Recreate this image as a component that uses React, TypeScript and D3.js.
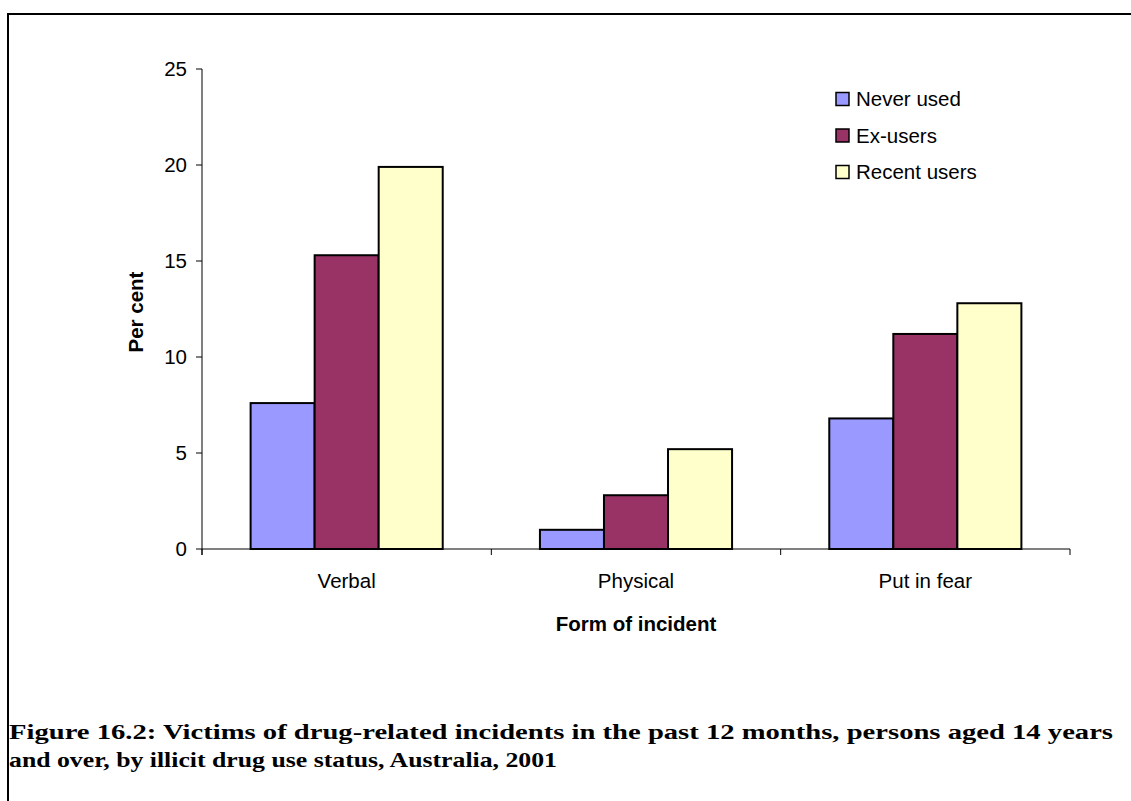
import * as d3 from "d3";

const categories = ["Verbal", "Physical", "Put in fear"];
const seriesNames = ["Never used", "Ex-users", "Recent users"];
const neverUsed = [7.6, 1.0, 6.8];
const exUsers = [15.3, 2.8, 11.2];
const recentUsers = [19.9, 5.2, 12.8];
const yTicks = [0, 5, 10, 15, 20, 25];

const COLORS = ["#9999FF", "#993366", "#FFFFCC"];
const W = 1131;
const H = 801;
const PLOT = { left: 202, right: 1070, top: 69, bottom: 549 };
const FONT = "'Liberation Sans', Arial, sans-serif";
const FS = 20.5;

export default function App() {
  const series = [neverUsed, exUsers, recentUsers];

  const x = d3
    .scaleBand<string>()
    .domain(categories)
    .range([PLOT.left, PLOT.right])
    .paddingInner(0.336)
    .paddingOuter(0.168);

  const inner = d3
    .scaleBand<number>()
    .domain(d3.range(seriesNames.length))
    .range([0, x.bandwidth()]);

  const y = d3.scaleLinear().domain([0, 25]).range([PLOT.bottom, PLOT.top]);

  // category boundaries for x-axis ticks
  const step = (PLOT.right - PLOT.left) / categories.length;

  return (
    <div style={{ position: "absolute", left: 0, top: 0 }}>
      <svg width={W} height={H} style={{ display: "block", background: "#fff" }}>
        <rect x={8} y={14} width={1400} height={1000} fill="none" stroke="#000" strokeWidth={2} />

        {/* bars */}
        {categories.map((c, ci) => (
          <g key={c} transform={`translate(${x(c)},0)`}>
            {series.map((vals, si) => (
              <rect
                key={si}
                x={inner(si)}
                y={y(vals[ci])}
                width={inner.bandwidth()}
                height={y(0) - y(vals[ci])}
                fill={COLORS[si]}
                stroke="#000"
                strokeWidth={2}
              />
            ))}
          </g>
        ))}

        {/* y axis */}
        <line x1={PLOT.left} x2={PLOT.left} y1={PLOT.top} y2={PLOT.bottom + 6} stroke="#000" strokeWidth={1} />
        {yTicks.map((t) => (
          <g key={t}>
            <line x1={PLOT.left - 6} x2={PLOT.left} y1={y(t)} y2={y(t)} stroke="#000" />
            <text
              x={PLOT.left - 15}
              y={y(t)}
              dy="0.36em"
              textAnchor="end"
              fontFamily={FONT}
              fontSize={FS}
            >
              {t}
            </text>
          </g>
        ))}

        {/* x axis */}
        <line x1={PLOT.left} x2={PLOT.right} y1={PLOT.bottom} y2={PLOT.bottom} stroke="#000" strokeWidth={1} />
        {d3.range(categories.length + 1).map((i) => (
          <line
            key={i}
            x1={PLOT.left + i * step}
            x2={PLOT.left + i * step}
            y1={PLOT.bottom}
            y2={PLOT.bottom + 6}
            stroke="#000"
          />
        ))}
        {categories.map((c) => (
          <text
            key={c}
            x={(x(c) ?? 0) + x.bandwidth() / 2}
            y={588}
            textAnchor="middle"
            fontFamily={FONT}
            fontSize={FS}
          >
            {c}
          </text>
        ))}

        {/* axis titles */}
        <text x={636} y={631} textAnchor="middle" fontFamily={FONT} fontSize={FS} fontWeight="bold">
          Form of incident
        </text>
        <text
          transform={`translate(143,${(PLOT.top + PLOT.bottom) / 2 + 3}) rotate(-90)`}
          textAnchor="middle"
          fontFamily={FONT}
          fontSize={FS}
          fontWeight="bold"
        >
          Per cent
        </text>

        {/* legend */}
        {seriesNames.map((name, i) => (
          <g key={name} transform={`translate(836,${99 + i * 36.5})`}>
            <rect x={0} y={-6.5} width={13} height={13} fill={COLORS[i]} stroke="#000" strokeWidth={1.5} />
            <text x={20} y={0} dy="0.36em" fontFamily={FONT} fontSize={FS}>
              {name}
            </text>
          </g>
        ))}

        {/* caption */}
        <text
          x={9}
          y={739}
          fontFamily="'Liberation Serif', 'DejaVu Serif', serif"
          fontWeight="bold"
          fontSize={22}
          textLength={1104}
          lengthAdjust="spacingAndGlyphs"
        >
          Figure 16.2: Victims of drug-related incidents in the past 12 months, persons aged 14 years
        </text>
        <text
          x={9}
          y={767}
          fontFamily="'Liberation Serif', 'DejaVu Serif', serif"
          fontWeight="bold"
          fontSize={22}
          textLength={548}
          lengthAdjust="spacingAndGlyphs"
        >
          and over, by illicit drug use status, Australia, 2001
        </text>
      </svg>
    </div>
  );
}
